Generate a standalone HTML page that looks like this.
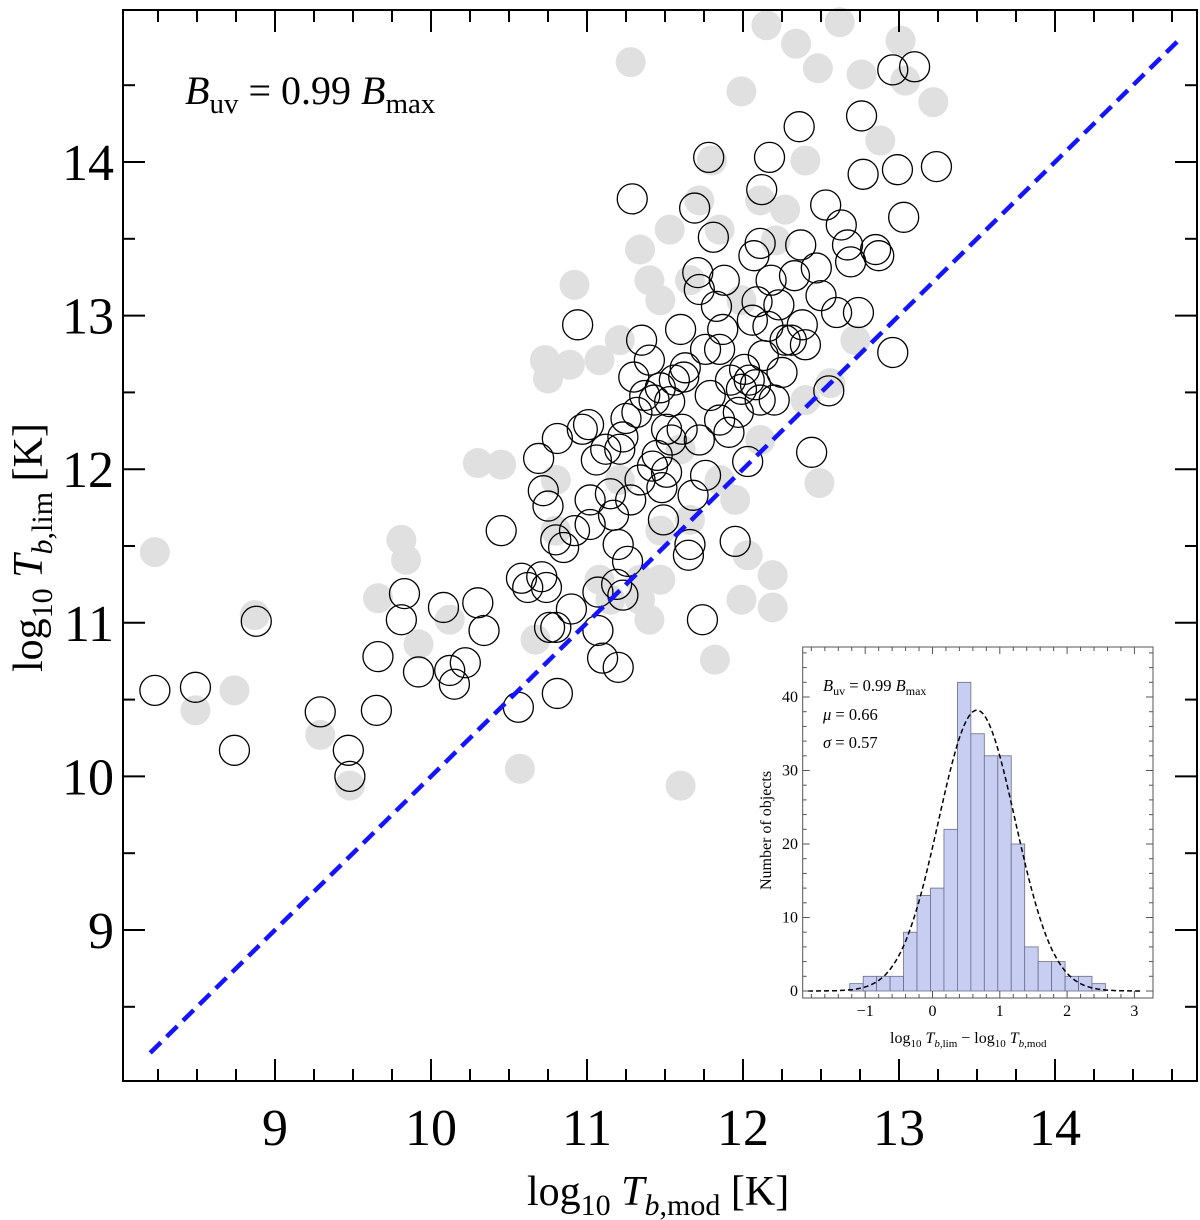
<!DOCTYPE html>
<html><head><meta charset="utf-8"><style>
body{margin:0;background:#fff}
svg{display:block;font-family:"Liberation Serif",serif}
</style></head><body>
<svg id="chart" width="1200" height="1220" viewBox="0 0 1200 1220" xmlns="http://www.w3.org/2000/svg">
<rect x="0" y="0" width="1200" height="1220" fill="#fff"/>
<g id="gray"></g>
<g id="open"></g>
<g id="line"></g>
<g id="axes"></g>
<text x="185" y="104" font-size="40"><tspan font-style="italic">B</tspan><tspan font-size="29" dy="9">uv</tspan><tspan dy="-9"> = 0.99 </tspan><tspan font-style="italic">B</tspan><tspan font-size="29" dy="9">max</tspan></text>
<text x="527" y="1205" font-size="42">log<tspan font-size="30" dy="10">10</tspan><tspan dy="-10" font-style="italic"> T</tspan><tspan font-size="30" dy="10" ><tspan font-style="italic">b</tspan>,mod</tspan><tspan dy="-10"> [K]</tspan></text>
<text transform="translate(42,672) rotate(-90)" font-size="42">log<tspan font-size="30" dy="10">10</tspan><tspan dy="-10" font-style="italic"> T</tspan><tspan font-size="30" dy="10"><tspan font-style="italic">b</tspan>,lim</tspan><tspan dy="-10"> [K]</tspan></text>
<g id="inset"></g>
</svg>
<script>
const openX=[8.23,8.49,8.74,8.88,9.29,9.47,9.48,9.65,9.66,9.81,9.83,9.92,10.08,10.12,10.15,10.22,10.30,10.34,10.45,10.56,10.58,10.62,10.69,10.71,10.72,10.74,10.76,10.80,10.81,10.81,10.75,10.80,10.85,10.90,10.92,10.94,10.97,11.01,11.02,11.06,11.07,11.07,11.10,11.12,11.15,11.17,11.19,11.20,11.20,11.23,11.23,11.25,11.26,11.28,11.29,11.30,11.32,11.35,11.37,11.40,11.42,11.43,11.45,11.47,11.48,11.49,11.51,11.51,11.53,11.54,11.56,11.60,11.62,11.63,11.65,11.66,11.68,11.69,11.71,11.72,11.74,11.76,11.76,11.78,11.79,11.81,11.83,11.85,11.87,11.88,11.91,11.92,11.95,11.97,11.99,12.03,12.04,12.06,12.07,12.09,12.11,12.12,12.13,12.16,12.17,12.18,12.20,12.23,12.25,12.27,12.31,12.33,12.36,12.37,12.38,12.40,12.44,12.47,12.50,12.53,12.55,12.60,12.63,12.67,12.69,12.74,12.76,12.77,12.85,12.87,12.96,12.99,13.24,13.03,12.96,13.10,11.61,11.72,11.34,11.85,12.01,12.08,12.11,11.21,11.02];
const openY=[10.56,10.58,10.17,11.01,10.42,10.17,10.00,10.43,10.78,11.02,11.19,10.68,11.10,10.69,10.60,10.74,11.13,10.95,11.60,10.45,11.29,11.23,12.07,11.30,11.86,11.23,10.97,10.97,10.54,12.20,11.76,11.54,11.49,11.09,11.60,12.94,12.26,12.29,11.80,12.06,11.20,10.95,10.77,12.13,11.84,11.70,11.25,10.71,11.51,11.18,12.21,12.33,11.40,11.80,13.76,12.60,12.37,12.84,12.48,12.71,12.02,12.45,12.09,12.53,11.88,11.67,11.98,12.26,12.44,12.19,12.58,12.91,12.60,12.66,11.44,11.51,11.83,13.70,13.28,13.17,11.02,11.96,12.78,14.03,12.48,13.51,13.06,12.32,12.91,13.23,12.24,12.58,11.53,12.37,12.52,12.05,12.58,12.97,13.39,13.09,13.47,13.82,12.74,12.93,14.03,13.23,12.45,13.07,12.63,12.84,12.84,13.26,14.23,13.46,12.94,12.81,12.11,13.31,13.13,13.72,12.51,13.02,13.59,13.46,13.35,13.02,14.30,13.92,13.43,13.39,12.76,13.95,13.97,13.64,14.60,14.62,12.26,12.19,11.93,12.78,12.65,12.55,12.45,12.13,11.64];
const grayX=[8.23,8.49,8.74,8.87,9.29,9.48,9.66,9.81,9.92,10.30,10.45,10.57,10.73,10.75,10.92,10.89,11.28,11.34,11.47,11.53,11.66,11.80,11.99,12.15,12.34,12.48,12.62,12.76,12.88,13.04,13.22,13.01,12.40,12.27,11.85,11.95,12.03,12.19,11.99,12.19,11.82,11.60,12.49,12.56,12.72,12.40,10.80,11.08,10.67,11.15,11.47,11.47,10.12,9.84,11.34,11.21,11.08,11.40,11.72,12.11,11.99,12.21,11.60,10.80,11.21,11.66,11.85,12.11,11.40,11.34];
const grayY=[11.46,10.43,10.56,11.05,10.27,9.94,11.16,11.54,10.86,12.04,12.03,10.05,12.71,12.59,13.20,12.68,14.65,13.43,13.10,13.56,13.23,14.01,14.46,14.89,14.77,14.61,14.91,14.57,14.14,14.53,14.39,14.79,14.01,13.69,13.56,11.80,11.44,11.31,11.15,11.10,10.76,9.94,11.91,12.56,12.84,12.45,11.60,11.28,10.89,11.15,11.28,11.60,11.02,11.41,11.28,12.84,12.71,13.23,13.75,13.75,13.10,13.49,12.13,11.93,11.93,11.67,11.93,12.19,11.02,11.15];
const xTicks=[9,10,11,12,13,14];
const yTicks=[9,10,11,12,13,14];
const binStart=-1.23, binWidth=0.2;
const binCounts=[1,2,2,2,8,13,14,22,42,35,32,32,20,6,4,4,2,2,1];
const histXTicks=[-1,0,1,2,3];
const histYTicks=[0,10,20,30,40];
const gaussMu=0.66, gaussSigma=0.57, gaussPeak=38.2;

const NS="http://www.w3.org/2000/svg";
function mk(tag,attrs,parent){const e=document.createElementNS(NS,tag);for(const k in attrs)e.setAttribute(k,attrs[k]);parent.appendChild(e);return e;}
const L=123,R=1197,T=10,B=1081;
const sx=v=>275+(v-9)*156;
const sy=v=>162-(v-14)*153.6;
const gG=document.getElementById('gray');
grayX.forEach((x,i)=>{const c=mk('circle',{cx:sx(x),cy:sy(grayY[i]),r:15,fill:'#e0e0e0'},gG);

});
const gO=document.getElementById('open');
openX.forEach((x,i)=>{const c=mk('circle',{cx:sx(x),cy:sy(openY[i]),r:15,fill:'none',stroke:'#000','stroke-width':1.3},gO);

});
const gL=document.getElementById('line');
const ln=mk('line',{x1:sx(8.2),y1:sy(8.2),x2:sx(14.8),y2:sy(14.8),stroke:'#1414ff','stroke-width':4.5,'stroke-dasharray':'15 8'},gL);


const gA=document.getElementById('axes');
mk('rect',{x:L,y:T,width:R-L,height:B-T,fill:'none',stroke:'#000','stroke-width':2},gA);
for(let v=8.25;v<=14.9;v+=0.25){const p=sx(v);if(p<=L||p>=R)continue;const maj=Math.abs(v-Math.round(v))<1e-6;const len=maj?22:12;
mk('line',{x1:p,y1:B,x2:p,y2:B-len,stroke:'#000','stroke-width':2},gA);mk('line',{x1:p,y1:T,x2:p,y2:T+len,stroke:'#000','stroke-width':2},gA);}
for(let v=8.5;v<=15;v+=0.5){const p=sy(v);if(p<=T||p>=B)continue;const maj=Math.abs(v-Math.round(v))<1e-6;const len=maj?22:12;
mk('line',{x1:L,y1:p,x2:L+len,y2:p,stroke:'#000','stroke-width':2},gA);mk('line',{x1:R,y1:p,x2:R-len,y2:p,stroke:'#000','stroke-width':2},gA);}
xTicks.forEach(v=>{const t=mk('text',{x:sx(v),y:1145,'font-size':52,'text-anchor':'middle'},gA);t.textContent=v;

});
yTicks.forEach(v=>{const t=mk('text',{x:114,y:sy(v)+18,'font-size':52,'text-anchor':'end'},gA);t.textContent=v;

});
const gI=document.getElementById('inset');
const iL=802.7,iR=1153,iT=647,iB=998;
const hx=v=>932.5+v*67.3;
const hy=v=>991-v*7.35;
mk('rect',{x:iL,y:iT,width:iR-iL,height:iB-iT,fill:'#fff'},gI);
binCounts.forEach((c,i)=>{const x0=hx(binStart+i*binWidth),x1=hx(binStart+(i+1)*binWidth);
const r=mk('rect',{x:x0,y:hy(c),width:x1-x0,height:hy(0)-hy(c),fill:'#c8cdf2',stroke:'#6a6e88','stroke-width':0.8},gI);

});
let d='';for(let v=-1.85;v<=3.15;v+=0.02){const y=gaussPeak*Math.exp(-((v-gaussMu)**2)/(2*gaussSigma**2));d+=(d?'L':'M')+hx(v).toFixed(1)+','+hy(y).toFixed(1);}
const gp=mk('path',{d:d,fill:'none',stroke:'#000','stroke-width':1.5,'stroke-dasharray':'5 3'},gI);


mk('rect',{x:iL,y:iT,width:iR-iL,height:iB-iT,fill:'none',stroke:'#555','stroke-width':1},gI);
for(let v=-1.8;v<=3.2;v+=0.2){const p=hx(v);if(p<=iL||p>=iR)continue;const maj=Math.abs(v-Math.round(v))<1e-6;const len=maj?7:4;
mk('line',{x1:p,y1:iB,x2:p,y2:iB-len,stroke:'#555'},gI);mk('line',{x1:p,y1:iT,x2:p,y2:iT+len,stroke:'#555'},gI);}
for(let v=0;v<=46;v+=2){const p=hy(v);if(p<=iT||p>=iB)continue;const len=(v%10===0)?7:4;
mk('line',{x1:iL,y1:p,x2:iL+len,y2:p,stroke:'#555'},gI);mk('line',{x1:iR,y1:p,x2:iR-len,y2:p,stroke:'#555'},gI);}
histXTicks.forEach(v=>{const t=mk('text',{x:hx(v),y:1016,'font-size':16,'text-anchor':'middle'},gI);t.textContent=v<0?'\u2212'+(-v):v;

});
histYTicks.forEach(v=>{const t=mk('text',{x:798,y:hy(v)+5,'font-size':16,'text-anchor':'end'},gI);t.textContent=v;

});
</script>
<svg style="position:absolute;left:0;top:0" width="1200" height="1220">
<g font-family="Liberation Serif, serif">
<text x="823" y="691" font-size="16.5"><tspan font-style="italic">B</tspan><tspan font-size="12" dy="4">uv</tspan><tspan dy="-4"> = 0.99 </tspan><tspan font-style="italic">B</tspan><tspan font-size="12" dy="4">max</tspan></text>
<text x="823" y="720" font-size="16.5"><tspan font-style="italic">μ</tspan> = 0.66</text>
<text x="823" y="748" font-size="16.5"><tspan font-style="italic">σ</tspan> = 0.57</text>
<text x="890" y="1043" font-size="16">log<tspan font-size="11" dy="4">10</tspan><tspan dy="-4" font-style="italic"> T</tspan><tspan font-size="11" dy="4"><tspan font-style="italic">b</tspan>,lim</tspan><tspan dy="-4"> − log</tspan><tspan font-size="11" dy="4">10</tspan><tspan dy="-4" font-style="italic"> T</tspan><tspan font-size="11" dy="4"><tspan font-style="italic">b</tspan>,mod</tspan></text>
<text transform="translate(771,890) rotate(-90)" font-size="16">Number of objects</text>
</g></svg>
</body></html>
